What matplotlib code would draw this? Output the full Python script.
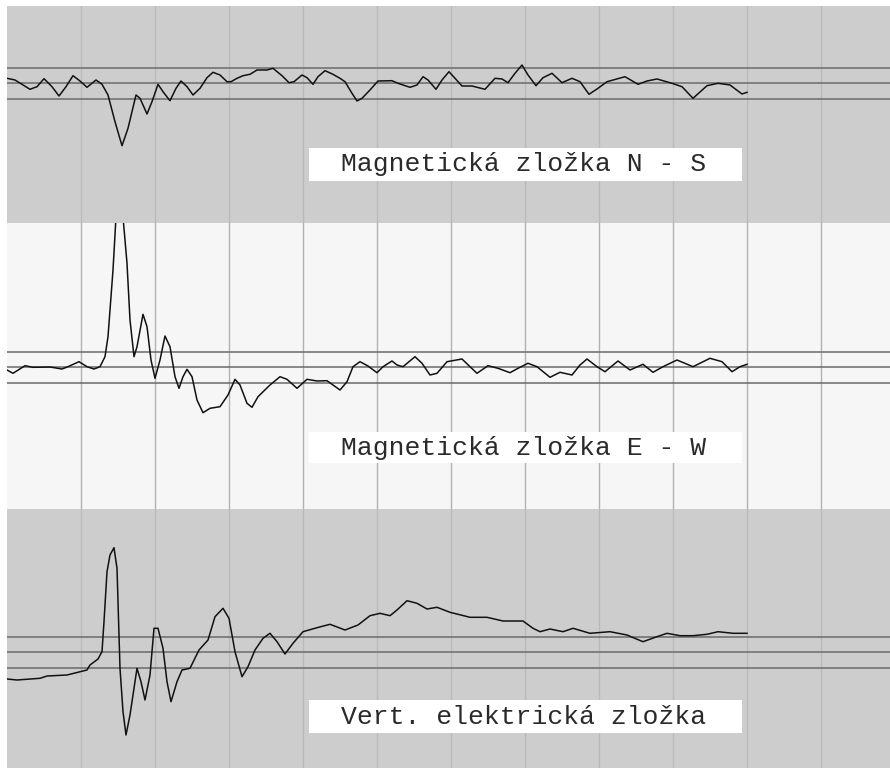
import numpy as np
import matplotlib
matplotlib.use("Agg")
import matplotlib.pyplot as plt
from matplotlib.patches import Rectangle

# casova os (vzorky) a amplituda pro kazdou slozku
ns_t = [0, 8, 23, 30, 37, 45, 52, 59, 66, 73,
        80, 89, 95, 101, 108, 115, 121, 129, 133, 140,
        145, 151, 156, 163, 169, 174, 180, 186, 193, 200,
        206, 213, 220, 224, 230, 236, 243, 250, 260, 266,
        275, 282, 287, 295, 300, 306, 311, 318, 326, 333,
        338, 345, 350, 355, 363, 371, 385, 391, 403, 410,
        416, 421, 429, 435, 442, 448, 455, 465, 478, 488,
        495, 501, 508, 515, 521, 529, 536, 545, 555, 565,
        573, 582, 591, 600, 618, 631, 640, 650, 665, 675,
        686, 700, 711, 723, 735, 740]
ns_a = [4.7, 3, -6.3, -3.7, 4.3, -3.7, -13, -3.7, 7.3, 2,
        -4.3, 3, -1.3, -12, -38.7, -62.7, -45.3, -12, -15.3, -31,
        -18.7, -1.3, -8.7, -17.7, -5.3, 2, -3.7, -12, -5.3, 5.3,
        10.7, 8, 1.3, 1.3, 4.7, 7.3, 8.7, 13, 13, 14.7,
        7.3, 0.3, 1.3, 8, 5.3, -1.3, 6.3, 12.3, 8.7, 4.7,
        1.3, -10.3, -18, -15.3, -7, 2, 2.3, -0.3, -4.3, -2,
        6.3, 3, -6.3, 3, 11.3, 4.7, -3, -3, -6.3, 4.7,
        4, 0.3, 9.7, 18, 8, -2.7, 5.3, 9.7, 0.3, 4.7,
        1.3, -11.3, -5.3, 1.3, 6.3, -1.3, 2, 4, -0.3, -3.7,
        -15.3, -2.7, -0.3, -2, -11, -9.3]

ew_t = [0, 6, 18, 26, 43, 55, 61, 72, 80, 87,
        93, 98, 101, 106, 109, 112.5, 116, 120, 123, 127,
        130, 136, 140, 144, 148, 153, 158, 163, 168, 172,
        176, 180, 185, 190, 196, 203, 213, 221, 228, 233,
        240, 245, 251, 263, 273, 280, 290, 300, 310, 320,
        326, 333, 340, 346, 353, 361, 370, 376, 385, 390,
        396, 408, 415, 423, 430, 440, 455, 463, 470, 481,
        491, 503, 511, 521, 530, 543, 553, 565, 573, 580,
        590, 598, 611, 623, 636, 646, 656, 670, 686, 703,
        715, 725, 733, 740]
ew_a = [-3, -6.3, 1.3, -0.3, 0, -2, 0.3, 5.3, 0.3, -2,
        0.3, 10.3, 30.3, 97, 150, 180, 150, 103.7, 47, 10.3,
        20.3, 52.7, 40.3, 7, -11.3, 7, 31, 20.3, -9.7, -21.3,
        -9.7, -2.3, -9.7, -33, -45.7, -41.3, -39.7, -28, -12.3, -18,
        -36.3, -40.3, -29.7, -18, -9.7, -12.3, -21.3, -12.3, -14, -13.7,
        -18, -23, -14.7, 0.3, 5.3, 1, -5.7, 0.3, 6, 2,
        0.3, 10.3, 3.7, -8, -6.3, 5.3, 8, 0.3, -6.3, 1.3,
        -1.3, -5.7, -1.3, 3.7, 0.3, -10.3, -5.3, -8, 2, 8,
        0.3, -4.7, 6, -3, 2.7, -5.3, 0.3, 7, 0.3, 8.7,
        5.3, -4.7, 0.3, 2.7]

ve_t = [0, 10, 33, 40, 60, 80, 83, 91, 95, 97,
        100, 103, 107, 110, 113, 116, 119, 123, 130, 134,
        138, 143, 147, 151, 156, 160, 164, 170, 175, 183,
        192, 201, 208, 216, 222, 228, 235, 241, 248, 256,
        263, 270, 278, 286, 296, 310, 323, 338, 351, 363,
        373, 383, 390, 400, 410, 420, 430, 443, 463, 480,
        496, 516, 526, 533, 543, 556, 566, 583, 603, 620,
        636, 650, 660, 673, 686, 700, 711, 726, 740]
ve_a = [-27, -28, -26.3, -24, -23, -18, -13, -7, 0.3, 30.3,
        80.3, 97, 104.3, 83.7, -16.3, -59.7, -83, -63, -16.3, -29.7,
        -48, -23, 23.7, 23.7, 3.7, -29.7, -49.7, -29.7, -18, -16.3,
        2, 12, 35.3, 43.7, 33.7, 0.3, -24.7, -14.7, 2, 13.7,
        18.7, 10.3, -2, 8.7, 20.3, 24.3, 27.7, 22, 27, 36.3,
        38.7, 36.3, 42, 51.3, 48.7, 43, 44.7, 39.7, 34.7, 34.7,
        31, 31, 23.7, 20.3, 23, 20.3, 23.7, 18.7, 20.3, 17,
        10.3, 15.3, 18.7, 16.3, 16.3, 17.7, 20.3, 18.7, 18.7]

labels = ["Magnetická zložka N - S", "Magnetická zložka E - W", "Vert. elektrická zložka"]

# rozlozeni panelu (px v obrazku 890x768)
W, H = 890, 768
panels = [
    # (top_px, bottom_px, center_px, barva, t, a, popisek, box_top, box_bottom)
    (6, 223, 83, "#cdcdcd", ns_t, ns_a, labels[0], 148, 181),
    (223, 508.5, 367, "#f6f6f6", ew_t, ew_a, labels[1], 432, 463),
    (508.5, 768, 652, "#cdcdcd", ve_t, ve_a, labels[2], 700, 733),
]
left_px = 7
grid_step = 74
band = 15.5

fig = plt.figure(figsize=(W / 100, H / 100), dpi=100)
fig.patch.set_facecolor("white")

for top, bot, cen, col, t, a, lab, btop, bbot in panels:
    ax = fig.add_axes([left_px / W, 1 - bot / H, (W - left_px) / W, (bot - top) / H])
    ax.set_facecolor(col)
    ax.set_xlim(0, W - left_px)
    ax.set_ylim(-(bot - cen), cen - top)
    gcol = "#b2b2b2" if col == "#f6f6f6" else "#bababa"
    for gx in np.arange(grid_step, W - left_px, grid_step):
        ax.axvline(gx, color=gcol, lw=1.0, zorder=1)
    for hy in (-band, 0, band):
        ax.axhline(hy, color="#6a6a6a", lw=1.1, zorder=2)
    ax.plot(t, a, color="#111111", lw=1.1, zorder=3)
    # popisek v bilem ramecku
    x0 = (309 - left_px) / (W - left_px)
    x1 = (742 - left_px) / (W - left_px)
    y0 = (bot - bbot) / (bot - top)
    y1 = (bot - btop) / (bot - top)
    ax.add_patch(Rectangle((x0, y0), x1 - x0, y1 - y0, transform=ax.transAxes,
                           facecolor="white", edgecolor="none", zorder=4))
    ax.text((341 - left_px) / (W - left_px), (y0 + y1) / 2, lab, transform=ax.transAxes,
            family="Liberation Mono", fontsize=19, color="#2a2a2a",
            va="center", ha="left", zorder=5)
    ax.set_xticks([])
    ax.set_yticks([])
    for s in ax.spines.values():
        s.set_visible(False)

plt.savefig("out.png", dpi=100)
